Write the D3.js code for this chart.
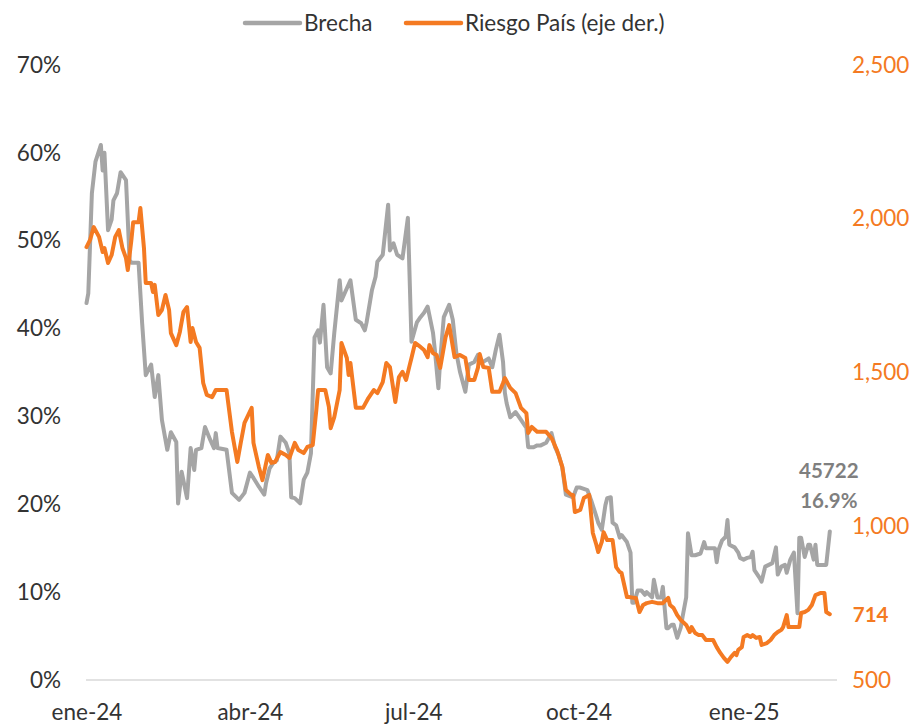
<!DOCTYPE html>
<html>
  <head>
    <title>Brecha y Riesgo Pais</title>
    <meta http-equiv="Content-Type" content="text/html; charset=UTF-8">
    <script src="https://d3js.org/d3.v7.min.js"></script>
    <style>
      body { margin: 0; background: #fff; }
      svg text { font-family: Lato, "Open Sans", sans-serif; }
    </style>
  </head>

  <body>

    <div id="chart"></div>

    <script>
      // brecha cambiaria (%)
      var brechaDates = [
        "2024-01-01","2024-01-02","2024-01-04","2024-01-06","2024-01-09","2024-01-10","2024-01-11","2024-01-13",
        "2024-01-15","2024-01-16","2024-01-18","2024-01-20","2024-01-23","2024-01-25","2024-01-26","2024-01-30",
        "2024-02-01","2024-02-03","2024-02-06","2024-02-08","2024-02-10","2024-02-12","2024-02-15","2024-02-17",
        "2024-02-20","2024-02-21","2024-02-23","2024-02-26","2024-02-28","2024-03-01","2024-03-02","2024-03-05",
        "2024-03-07","2024-03-10","2024-03-12","2024-03-13","2024-03-14","2024-03-19","2024-03-22","2024-03-26",
        "2024-03-29","2024-04-01","2024-04-03","2024-04-06","2024-04-09","2024-04-10","2024-04-12","2024-04-14",
        "2024-04-16","2024-04-18","2024-04-21","2024-04-23","2024-04-24","2024-04-26","2024-04-29","2024-05-01",
        "2024-05-03","2024-05-05","2024-05-07","2024-05-09","2024-05-10","2024-05-12","2024-05-14","2024-05-16",
        "2024-05-18","2024-05-21","2024-05-22","2024-05-27","2024-05-30","2024-06-02","2024-06-04","2024-06-05",
        "2024-06-08","2024-06-10","2024-06-11","2024-06-14","2024-06-17","2024-06-18","2024-06-20","2024-06-22",
        "2024-06-25","2024-06-28","2024-06-30","2024-07-03","2024-07-05","2024-07-07","2024-07-09","2024-07-12",
        "2024-07-13","2024-07-15","2024-07-16","2024-07-18","2024-07-21","2024-07-23","2024-07-25","2024-07-27",
        "2024-07-30","2024-08-01","2024-08-04","2024-08-06","2024-08-08","2024-08-12","2024-08-14","2024-08-16",
        "2024-08-18","2024-08-20","2024-08-21","2024-08-22","2024-08-24","2024-08-27","2024-08-30","2024-09-02",
        "2024-09-03","2024-09-06","2024-09-08","2024-09-10","2024-09-13","2024-09-16","2024-09-18","2024-09-20",
        "2024-09-22","2024-09-24","2024-09-28","2024-09-30","2024-10-02","2024-10-06","2024-10-08","2024-10-11",
        "2024-10-12","2024-10-14","2024-10-16","2024-10-17","2024-10-19","2024-10-20","2024-10-22","2024-10-24",
        "2024-10-25","2024-10-28","2024-10-30","2024-10-31","2024-11-01","2024-11-03","2024-11-05","2024-11-07",
        "2024-11-08","2024-11-11","2024-11-12","2024-11-14","2024-11-16","2024-11-17","2024-11-19","2024-11-20",
        "2024-11-22","2024-11-23","2024-11-25","2024-11-27","2024-11-28","2024-11-30","2024-12-01","2024-12-03",
        "2024-12-05","2024-12-08","2024-12-10","2024-12-11","2024-12-14","2024-12-16","2024-12-17","2024-12-18",
        "2024-12-20","2024-12-22","2024-12-23","2024-12-24","2024-12-27","2024-12-29","2024-12-30","2025-01-01",
        "2025-01-03","2025-01-05","2025-01-06","2025-01-07","2025-01-10","2025-01-11","2025-01-13","2025-01-15",
        "2025-01-17","2025-01-19","2025-01-20","2025-01-22","2025-01-24","2025-01-25","2025-01-27","2025-01-29",
        "2025-01-31","2025-02-01","2025-02-02","2025-02-04","2025-02-06","2025-02-07","2025-02-09","2025-02-10",
        "2025-02-11","2025-02-16","2025-02-18"
      ];
      var brechaValues = [
        42.9,44.0,55.4,59.0,60.9,58.0,60.0,51.2,
        52.4,54.6,55.4,57.8,56.9,47.8,47.5,47.5,
        40.6,34.7,35.9,32.2,34.7,29.6,26.2,28.2,
        27.1,20.1,23.7,20.7,26.4,23.9,26.2,26.4,
        28.8,27.3,26.4,28.1,26.4,26.2,21.3,20.5,
        21.3,23.6,23.0,22.0,21.1,22.4,24.1,24.7,
        25.0,27.7,27.0,25.8,20.8,20.7,20.1,22.8,
        23.6,25.8,39.0,39.8,38.4,42.7,35.6,34.9,
        39.5,45.5,43.2,45.5,41.0,40.6,39.8,40.7,
        44.4,45.9,47.6,48.4,54.1,48.9,49.7,48.4,
        48.0,52.6,38.5,40.7,41.3,41.8,42.5,39.5,
        37.6,33.2,36.4,41.3,42.7,41.0,37.2,35.1,
        32.8,35.9,36.2,37.0,36.1,36.6,35.6,37.6,
        39.3,36.2,32.7,31.5,29.9,30.5,29.6,28.7,
        26.5,26.5,26.7,26.7,27.0,28.1,26.5,25.6,
        24.2,21.1,20.8,21.9,21.9,21.6,20.5,18.6,
        17.9,17.1,19.9,20.7,20.8,17.9,17.6,16.2,
        16.5,15.7,14.5,8.8,8.8,10.2,10.2,9.7,
        10.0,9.4,11.4,9.4,9.4,10.6,5.9,5.9,
        6.3,6.3,4.8,6.0,7.2,9.4,16.7,14.2,
        14.2,14.4,15.7,15.0,15.0,15.0,13.4,14.8,
        15.9,16.3,18.2,15.4,15.1,14.5,13.9,13.7,
        13.9,14.0,14.6,12.5,11.6,11.2,12.9,13.1,
        13.3,15.1,12.0,12.9,13.1,12.2,13.7,14.5,
        7.6,16.2,16.2,14.0,15.4,15.4,13.7,15.4,
        13.1,13.1,16.9
      ];

      // riesgo pais (pb, eje derecho)
      var riesgoDates = [
        "2024-01-01","2024-01-03","2024-01-05","2024-01-08","2024-01-10","2024-01-11","2024-01-13","2024-01-15",
        "2024-01-17","2024-01-19","2024-01-21","2024-01-23","2024-01-24","2024-01-26","2024-01-27","2024-01-30",
        "2024-01-31","2024-02-02","2024-02-03","2024-02-06","2024-02-07","2024-02-08","2024-02-10","2024-02-12",
        "2024-02-14","2024-02-16","2024-02-17","2024-02-20","2024-02-22","2024-02-24","2024-02-26","2024-02-28",
        "2024-02-29","2024-03-02","2024-03-04","2024-03-06","2024-03-08","2024-03-11","2024-03-13","2024-03-19",
        "2024-03-22","2024-03-25","2024-03-27","2024-03-29","2024-04-02","2024-04-03","2024-04-06","2024-04-08",
        "2024-04-11","2024-04-13","2024-04-15","2024-04-18","2024-04-21","2024-04-23","2024-04-26","2024-04-28",
        "2024-05-01","2024-05-03","2024-05-06","2024-05-08","2024-05-09","2024-05-13","2024-05-15","2024-05-16",
        "2024-05-18","2024-05-21","2024-05-22","2024-05-25","2024-05-26","2024-05-27","2024-05-30","2024-06-03",
        "2024-06-06","2024-06-09","2024-06-11","2024-06-14","2024-06-16","2024-06-18","2024-06-21","2024-06-23",
        "2024-06-25","2024-06-27","2024-06-29","2024-06-30","2024-07-02","2024-07-05","2024-07-07","2024-07-09",
        "2024-07-10","2024-07-12","2024-07-14","2024-07-16","2024-07-19","2024-07-21","2024-07-24","2024-07-27",
        "2024-07-30","2024-08-01","2024-08-04","2024-08-06","2024-08-07","2024-08-09","2024-08-12","2024-08-14",
        "2024-08-18","2024-08-20","2024-08-21","2024-08-24","2024-08-27","2024-08-30","2024-09-02","2024-09-03",
        "2024-09-05","2024-09-08","2024-09-13","2024-09-16","2024-09-19","2024-09-22","2024-09-24","2024-09-27",
        "2024-09-28","2024-09-29","2024-10-02","2024-10-04","2024-10-07","2024-10-09","2024-10-11","2024-10-12",
        "2024-10-14","2024-10-15","2024-10-17","2024-10-20","2024-10-22","2024-10-24","2024-10-25","2024-10-28",
        "2024-10-29","2024-11-01","2024-11-02","2024-11-04","2024-11-06","2024-11-08","2024-11-11","2024-11-14",
        "2024-11-17","2024-11-20","2024-11-21","2024-11-23","2024-11-25","2024-11-27","2024-11-30","2024-12-02",
        "2024-12-03","2024-12-05","2024-12-07","2024-12-09","2024-12-11","2024-12-15","2024-12-17","2024-12-19",
        "2024-12-21","2024-12-23","2024-12-25","2024-12-27","2024-12-28","2024-12-29","2024-12-31","2025-01-01",
        "2025-01-03","2025-01-05","2025-01-06","2025-01-08","2025-01-10","2025-01-11","2025-01-14","2025-01-16",
        "2025-01-18","2025-01-20","2025-01-22","2025-01-23","2025-01-25","2025-01-26","2025-02-01","2025-02-02",
        "2025-02-04","2025-02-06","2025-02-08","2025-02-10","2025-02-13","2025-02-15","2025-02-16","2025-02-18"
      ];
      var riesgoValues = [
        1908,1931,1973,1941,1892,1905,1856,1882,
        1941,1963,1905,1872,1833,1931,1989,1989,
        2035,1905,1791,1791,1762,1785,1687,1703,
        1752,1703,1628,1589,1632,1697,1713,1599,
        1645,1599,1580,1466,1427,1420,1443,1443,
        1307,1209,1274,1336,1385,1271,1193,1150,
        1232,1206,1209,1241,1232,1222,1271,1248,
        1238,1258,1264,1378,1443,1443,1388,1319,
        1355,1443,1596,1547,1492,1531,1385,1385,
        1417,1443,1433,1469,1531,1518,1404,1485,
        1502,1476,1524,1547,1596,1583,1573,1550,
        1589,1563,1557,1515,1615,1654,1550,1557,
        1547,1476,1476,1515,1560,1518,1515,1437,
        1437,1466,1482,1450,1433,1385,1368,1303,
        1323,1307,1307,1287,1248,1193,1118,1102,
        1102,1046,1053,1092,1102,978,939,916,
        949,981,955,955,867,851,848,770,
        770,767,767,721,744,750,754,750,
        750,767,744,734,711,695,679,656,
        672,653,646,646,630,630,607,588,
        572,559,575,588,581,598,607,640,
        646,640,646,637,640,614,620,630,
        646,656,663,672,711,672,672,718,
        721,728,744,776,783,783,721,714
      ];

      var xTickDates = ["2024-01-01","2024-04-01","2024-07-01","2024-10-01","2025-01-01"];
      var xTickLabels = ["ene-24","abr-24","jul-24","oct-24","ene-25"];
      var leftTicks = [0, 10, 20, 30, 40, 50, 60, 70];
      var rightTicks = [500, 1000, 1500, 2000, 2500];
      var seriesNames = ["Brecha", "Riesgo País (eje der.)"];
      var lastDateLabel = "45722";

      var GRAY = "#a5a5a5", ORANGE = "#f47a22", TEXT = "#333333";

      var parse = d3.timeParse("%Y-%m-%d");
      var brecha = brechaDates.map(function (d, i) { return { date: parse(d), value: brechaValues[i] }; });
      var riesgo = riesgoDates.map(function (d, i) { return { date: parse(d), value: riesgoValues[i] }; });

      var width = 917, height = 727;
      var svg = d3.select("#chart").append("svg").attr("width", width).attr("height", height);

      var x = d3.scaleTime()
        .domain([parse("2024-01-01"), parse("2025-02-22")])
        .range([86.5, 837]);
      var yLeft = d3.scaleLinear().domain([0, 70]).range([680, 65]);
      var yRight = d3.scaleLinear().domain([500, 2500]).range([680, 65]);

      // baseline
      svg.append("line")
        .attr("x1", 86).attr("x2", 837)
        .attr("y1", yLeft(0)).attr("y2", yLeft(0))
        .attr("stroke", "#d9d9d9").attr("stroke-width", 1.5);

      // axes (only labels)
      var xAxis = svg.append("g")
        .attr("transform", "translate(0," + yLeft(0) + ")")
        .call(d3.axisBottom(x)
          .tickValues(xTickDates.map(parse))
          .tickSize(0).tickPadding(24)
          .tickFormat(function (d, i) { return xTickLabels[i]; }));

      var leftAxis = svg.append("g")
        .attr("transform", "translate(61,0)")
        .call(d3.axisLeft(yLeft).tickValues(leftTicks).tickSize(0).tickPadding(0)
          .tickFormat(function (d) { return d + "%"; }));

      var rightAxis = svg.append("g")
        .attr("transform", "translate(852,0)")
        .call(d3.axisRight(yRight).tickValues(rightTicks).tickSize(0).tickPadding(0)
          .tickFormat(d3.format(",")));

      [xAxis, leftAxis, rightAxis].forEach(function (g) {
        g.select(".domain").remove();
        g.selectAll("text").style("font-size", "22.5px").attr("font-family", null);
      });
      xAxis.selectAll("text").attr("fill", TEXT);
      leftAxis.selectAll("text").attr("fill", TEXT);
      rightAxis.selectAll("text").attr("fill", ORANGE);

      // lines
      var lineLeft = d3.line().x(function (d) { return x(d.date); }).y(function (d) { return yLeft(d.value); });
      var lineRight = d3.line().x(function (d) { return x(d.date); }).y(function (d) { return yRight(d.value); });

      svg.append("path").datum(brecha)
        .attr("d", lineLeft)
        .attr("fill", "none").attr("stroke", GRAY).attr("stroke-width", 4)
        .attr("stroke-linejoin", "round").attr("stroke-linecap", "round");

      svg.append("path").datum(riesgo)
        .attr("d", lineRight)
        .attr("fill", "none").attr("stroke", ORANGE).attr("stroke-width", 4)
        .attr("stroke-linejoin", "round").attr("stroke-linecap", "round");

      // data labels on last point
      var lastB = brecha[brecha.length - 1], lastR = riesgo[riesgo.length - 1];
      svg.append("text")
        .attr("x", x(lastB.date) - 1).attr("y", yLeft(lastB.value) - 54)
        .attr("text-anchor", "middle").attr("fill", "#7f7f7f")
        .style("font-size", "20.5px").style("font-weight", "bold")
        .text(lastDateLabel);
      svg.append("text")
        .attr("x", x(lastB.date) - 1).attr("y", yLeft(lastB.value) - 24)
        .attr("text-anchor", "middle").attr("fill", "#7f7f7f")
        .style("font-size", "20.5px").style("font-weight", "bold")
        .text(d3.format(".1f")(lastB.value) + "%");
      svg.append("text")
        .attr("x", x(lastR.date) + 23).attr("y", yRight(lastR.value) + 8)
        .attr("fill", ORANGE)
        .style("font-size", "20.5px").style("font-weight", "bold")
        .text(lastR.value);

      // legend
      var legend = svg.append("g").attr("transform", "translate(0,23)");
      var legendItems = [
        { name: seriesNames[0], color: GRAY, x: 245 },
        { name: seriesNames[1], color: ORANGE, x: 406 }
      ];
      legendItems.forEach(function (item) {
        legend.append("line")
          .attr("x1", item.x).attr("x2", item.x + 55)
          .attr("stroke", item.color).attr("stroke-width", 4.5).attr("stroke-linecap", "round");
        legend.append("text")
          .attr("x", item.x + 59).attr("y", 7.5)
          .attr("fill", TEXT).style("font-size", "22.5px")
          .text(item.name);
      });
    </script>
  </body>
</html>
